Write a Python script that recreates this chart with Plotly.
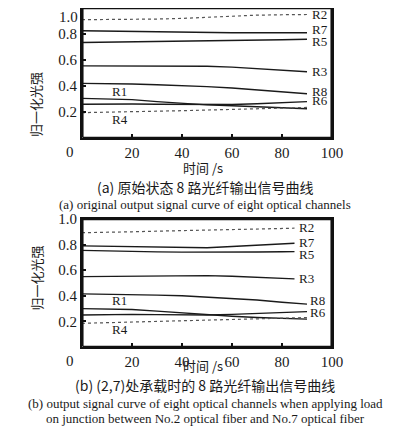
import plotly.graph_objects as go

# ---------------- data ----------------
t = [0, 10, 20, 30, 40, 50, 60, 70, 80, 90]
t_short = [0, 10, 20, 30, 40, 50, 60, 70, 80, 85]

# (a) original state
a_R2 = [0.91, 0.91, 0.915, 0.915, 0.92, 0.93, 0.94, 0.945, 0.948, 0.95]
a_R7 = [0.825, 0.822, 0.82, 0.818, 0.815, 0.812, 0.81, 0.81, 0.81, 0.81]
a_R5 = [0.735, 0.737, 0.74, 0.742, 0.745, 0.748, 0.75, 0.753, 0.756, 0.76]
a_R3 = [0.555, 0.555, 0.556, 0.556, 0.555, 0.552, 0.545, 0.535, 0.522, 0.51]
a_R8 = [0.42, 0.42, 0.415, 0.41, 0.405, 0.395, 0.385, 0.37, 0.355, 0.34]
a_R1 = [0.305, 0.30, 0.295, 0.28, 0.265, 0.255, 0.248, 0.24, 0.232, 0.225]
a_R6 = [0.26, 0.262, 0.262, 0.26, 0.258, 0.256, 0.258, 0.263, 0.27, 0.28]
a_R4 = [0.195, 0.198, 0.2, 0.205, 0.21, 0.215, 0.22, 0.225, 0.23, 0.235]

# (b) load applied at (2,7)
b_R2 = [0.893, 0.895, 0.9, 0.905, 0.91, 0.915, 0.92, 0.923, 0.926, 0.928]
b_R7 = [0.79, 0.787, 0.783, 0.78, 0.777, 0.775, 0.785, 0.795, 0.805, 0.81]
b_R5 = [0.755, 0.75, 0.746, 0.743, 0.741, 0.74, 0.741, 0.742, 0.744, 0.745]
b_R3 = [0.55, 0.552, 0.555, 0.558, 0.56, 0.558, 0.553, 0.545, 0.537, 0.532]
b_R8 = [0.415, 0.413, 0.41, 0.405, 0.40, 0.39, 0.382, 0.367, 0.35, 0.335]
b_R1 = [0.30, 0.298, 0.293, 0.28, 0.265, 0.252, 0.24, 0.23, 0.222, 0.218]
b_R6 = [0.25, 0.255, 0.255, 0.253, 0.25, 0.25, 0.255, 0.262, 0.27, 0.276]
b_R4 = [0.185, 0.19, 0.195, 0.2, 0.205, 0.21, 0.215, 0.22, 0.225, 0.23]

x_ticks = [20, 40, 60, 80, 100]
y_ticks = [0.2, 0.4, 0.6, 0.8, 1.0]
y_ticktext = ["0.2", "0.4", "0.6", "0.8", "1.0"]
y_ticktext_top = ["0.2", "0.4", "0.6", "0.8", ""]   # top "1.0" placed as annotation

captions_a = ["(a) 原始状态 8 路光纤输出信号曲线",
              "(a) original output signal curve of eight optical channels"]
captions_b = ["(b) (2,7)处承载时的 8 路光纤输出信号曲线",
              "(b) output signal curve of eight optical channels when applying load",
              "on junction between No.2 optical fiber and No.7 optical fiber"]

# ---------------- styling ----------------
OFF = 8                    # page body margin in the browser
W, H = 399 - OFF, 440 - OFF
SERIF = "Liberation Serif, Times New Roman, serif"
CJK = "Noto Sans CJK SC"
INK = "#111111"
TXT = "#1a1a1a"

def py(pix):  # screen pixel row -> paper y
    return 1 - (pix - OFF) / H

def px(pix):
    return (pix - OFF) / W

fig = go.Figure()

series_a = [("R2", a_R2, t, True), ("R7", a_R7, t, False), ("R5", a_R5, t, False),
            ("R3", a_R3, t, False), ("R8", a_R8, t, False), ("R1", a_R1, t, False),
            ("R6", a_R6, t, False), ("R4", a_R4, t, True)]
series_b = [("R2", b_R2, t_short, True), ("R7", b_R7, t_short, False), ("R5", b_R5, t_short, False),
            ("R3", b_R3, t_short, False), ("R8", b_R8, t, False), ("R1", b_R1, t, False),
            ("R6", b_R6, t, False), ("R4", b_R4, t, True)]

def line_style(dotted):
    if dotted:
        return dict(color="#555555", width=1.2, dash="dot")
    return dict(color="#1a1a1a", width=1.4)

for name, ys, xs, dotted in series_a:
    fig.add_trace(go.Scatter(x=xs, y=ys, mode="lines", name=name, xaxis="x", yaxis="y",
                             line=line_style(dotted), showlegend=False))
for name, ys, xs, dotted in series_b:
    fig.add_trace(go.Scatter(x=xs, y=ys, mode="lines", name=name, xaxis="x2", yaxis="y2",
                             line=line_style(dotted), showlegend=False))

# panel frames, drawn just inside each axis range
frame_x = [0.3, 99.7, 99.7, 0.3, 0.3]
frame_y = [0.004, 0.004, 0.996, 0.996, 0.004]
for xr, yr in (("x", "y"), ("x2", "y2")):
    fig.add_trace(go.Scatter(x=frame_x, y=frame_y, mode="lines", xaxis=xr, yaxis=yr,
                             line=dict(color=INK, width=1.6), hoverinfo="skip",
                             showlegend=False))

axis_common = dict(showline=True, linecolor=INK, linewidth=2, mirror=True,
                   showgrid=False, zeroline=False, ticks="inside", ticklen=4,
                   tickcolor=INK, tickwidth=2, automargin=False,
                   ticklabeloverflow="allow",
                   tickfont=dict(family=SERIF, size=15, color=TXT))

xdom = [px(82), px(332)]
fig.update_layout(
    width=W, height=H, margin=dict(l=0, r=0, t=0, b=0, autoexpand=False),
    paper_bgcolor="white", plot_bgcolor="white",
    xaxis=dict(domain=xdom, range=[0, 100], tickvals=x_ticks, anchor="y", **axis_common),
    yaxis=dict(domain=[py(138), py(8)], range=[0, 1.0], tickvals=y_ticks,
               ticktext=y_ticktext_top, anchor="x", **axis_common),
    xaxis2=dict(domain=xdom, range=[0, 100], tickvals=x_ticks, anchor="y2", **axis_common),
    yaxis2=dict(domain=[py(347), py(219)], range=[0, 1.0], tickvals=y_ticks,
                ticktext=y_ticktext, anchor="x2", **axis_common),
)

ann = []
lab_font = dict(family=SERIF, size=13, color=TXT)
labels_a = [("R2", 91, 0.95), ("R7", 91, 0.835), ("R5", 91, 0.74), ("R3", 91, 0.51),
            ("R8", 91, 0.36), ("R6", 91, 0.285), ("R1", 11, 0.355), ("R4", 11, 0.14)]
for txt, x, y in labels_a:
    ann.append(dict(x=x, y=y, xref="x", yref="y", text=txt, showarrow=False,
                    xanchor="left", yanchor="middle", font=lab_font))
labels_b = [("R2", 86, 0.93), ("R7", 86, 0.82), ("R5", 86, 0.725), ("R3", 86, 0.535),
            ("R8", 90.5, 0.365), ("R6", 90.5, 0.27), ("R1", 11, 0.36), ("R4", 11, 0.14)]
for txt, x, y in labels_b:
    ann.append(dict(x=x, y=y, xref="x2", yref="y2", text=txt, showarrow=False,
                    xanchor="left", yanchor="middle", font=lab_font))

# top "1.0" label kept fully inside the page
ann.append(dict(x=px(80), y=1.0, xref="paper", yref="paper", text="1.0", showarrow=False,
                xanchor="right", yanchor="top", yshift=1,
                font=dict(family=SERIF, size=15, color=TXT)))

# origin "0" labels
for xr, yr in (("x", "y"), ("x2", "y2")):
    ann.append(dict(x=0, y=0, xref=xr, yref=yr, text="0", showarrow=False,
                    xanchor="center", yanchor="top", xshift=-12, yshift=-4,
                    font=dict(family=SERIF, size=15, color=TXT)))

# axis titles
for yy in (167, 377):
    ann.append(dict(x=px(203), y=py(yy), xref="paper", yref="paper", text="时间 /s",
                    showarrow=False, font=dict(family=CJK, size=13, color=TXT)))
for yy in (70, 278):
    ann.append(dict(x=px(24), y=py(yy), xref="paper", yref="paper", text="归一化光强",
                    textangle=-90, showarrow=False, font=dict(family=CJK, size=13, color=TXT)))

def add_captions(lines, ys):
    for txt, yy in zip(lines, ys):
        is_cjk = any(ord(c) > 0x2E80 for c in txt)
        ann.append(dict(x=px(205), y=py(yy), xref="paper", yref="paper", text=txt,
                        showarrow=False,
                        font=dict(family=CJK if is_cjk else SERIF, size=14 if is_cjk else 13,
                                  color=TXT)))

add_captions(captions_a, [187, 204])
add_captions(captions_b, [397, 413, 428])

fig.update_layout(annotations=ann)
fig.write_html("out.html")
